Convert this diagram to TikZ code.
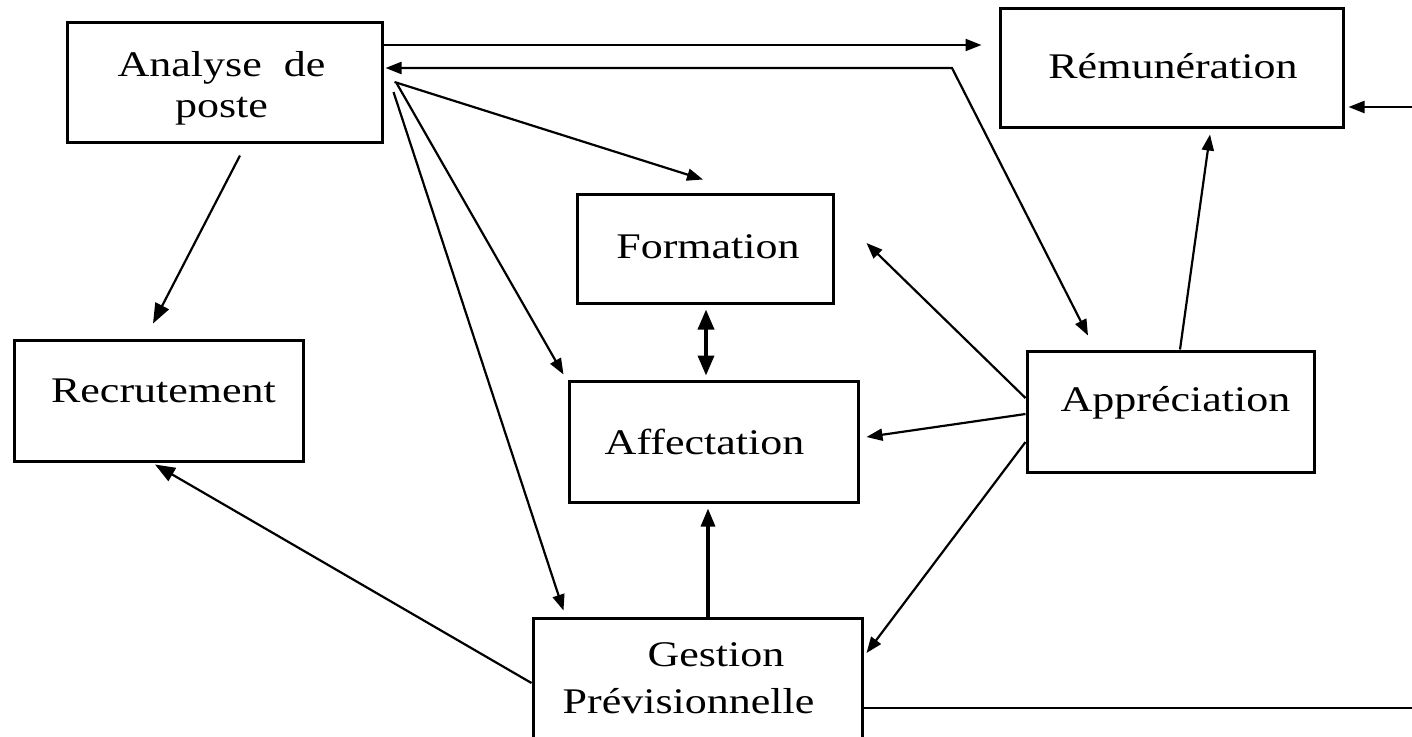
\documentclass[tikz,border=0pt]{standalone}
\usepackage{graphicx}
\usepackage{fontspec}
\setmainfont{Liberation Serif}
\usetikzlibrary{arrows.meta}
\newcommand\vsq[1]{\scalebox{1}[0.82]{#1}}
\begin{document}
\begin{tikzpicture}[x=0.5pt,y=-0.5pt,
  box/.style={draw, line width=1.5pt, inner sep=0pt, rectangle},
  lab/.style={inner sep=0pt, font=\fontsize{22}{27}\selectfont},
  conn/.style={line width=1.1pt, -{Triangle[length=8pt,width=6pt]}},
  bigconn/.style={line width=1.1pt, -{Triangle[length=10pt,width=7.5pt]}},
  dconn/.style={line width=1.1pt, {Triangle[length=8pt,width=6pt]}-{Triangle[length=8pt,width=6pt]}},
  thickd/.style={line width=1.8pt, {Triangle[length=10pt,width=8pt]}-{Triangle[length=10pt,width=8pt]}},
  thickc/.style={line width=1.6pt, -{Triangle[length=9pt,width=7pt]}},
  plain/.style={line width=1.1pt}]
\useasboundingbox (0,0) rectangle (1412,736);
\clip (0,0) rectangle (1412,736);

% boxes
\node[box, minimum width=157.5pt, minimum height=60pt]   (ana)  at (224.5,82)    {};
\node[box, minimum width=171.5pt, minimum height=59.5pt] (rem)  at (1171.5,67.5) {};
\node[box, minimum width=128pt,   minimum height=54.5pt] (form) at (705,248.5)   {};
\node[box, minimum width=144.5pt, minimum height=60.5pt] (rec)  at (158.5,400.5) {};
\node[box, minimum width=144.5pt, minimum height=60.5pt] (aff)  at (713.5,441.5) {};
\node[box, minimum width=143.5pt, minimum height=60.5pt] (app)  at (1170.5,411.5) {};
\node[box, minimum width=164.5pt, minimum height=63pt]   (ges)  at (697.5,681)   {};

% labels
\node[lab] (tana)  at ([shift={(-3,6.5)}]ana.center)
  {\vsq{\fontsize{22}{25}\selectfont\begin{tabular}{@{}c@{}}Analyse\ \ de\\poste\end{tabular}}};
\node[lab] (trem)  at ([shift={(1.5,-1.5)}]rem.center) {\vsq{Rémunération}};
\node[lab] (tform) at ([shift={(3,-2)}]form.center) {\vsq{Formation}};
\node[lab] (trec)  at ([shift={(5,-9.5)}]rec.center) {\vsq{Recrutement}};
\node[lab] (taff)  at ([shift={(-9,0)}]aff.center) {\vsq{Affectation}};
\node[lab] (tapp)  at ([shift={(5,-9)}]app.center) {\vsq{Appréciation}};
\node[lab] (tges)  at ([shift={(-9,0)}]ges.center)
  {\vsq{\fontsize{22}{28.7}\selectfont\begin{tabular}{@{}c@{}}\hspace*{27.5pt}Gestion\\Prévisionnelle\end{tabular}}};

% free ends
\coordinate (bend) at (952,68);
\coordinate (rin)  at (1412,107);
\coordinate (gout) at (1412,708);

% connectors
\draw[conn] ([shift={(0,-37)}]ana.east) -- ([shift={(-17,-22.5)}]rem.west);
\draw[dconn] ([shift={(2,-14)}]ana.east) -- (bend) -- ([shift={(-82.5,-14)}]app.north);
\draw[conn] ([shift={(11,0)}]ana.east) -- ([shift={(-2,-13)}]form.north);
\draw[conn] ([shift={(13,1)}]ana.east) -- ([shift={(-4,-5)}]aff.north west);
\draw[conn] ([shift={(10,10)}]ana.east) -- ([shift={(32,-6)}]ges.north west);
\draw[bigconn] ([shift={(15.5,12)}]ana.south) -- ([shift={(-5.5,-15)}]rec.north);
\draw[thickd] ([shift={(1,5)}]form.south) -- ([shift={(-7.5,-4)}]aff.north);
\draw[conn] ([shift={(0,-13.5)}]app.west) -- ([shift={(32,-5.5)}]form.east);
\draw[conn] ([shift={(0,2.5)}]app.west) -- ([shift={(7,-4.5)}]aff.east);
\draw[conn] ([shift={(0,30.5)}]app.west) -- ([shift={(3,-28)}]ges.east);
\draw[conn] ([shift={(9.5,0)}]app.north) -- ([shift={(38.5,6)}]rem.south);
\draw[thickc] ([shift={(10.5,0)}]ges.north) -- ([shift={(-5.5,5)}]aff.south);
\draw[bigconn] ([shift={(0,2)}]ges.west) -- ([shift={(-3.5,2)}]rec.south);
\draw[plain] ([shift={(0,27)}]ges.east) -- (gout);
\draw[conn] (rin) -- ([shift={(4,39.5)}]rem.east);
\end{tikzpicture}
\end{document}
